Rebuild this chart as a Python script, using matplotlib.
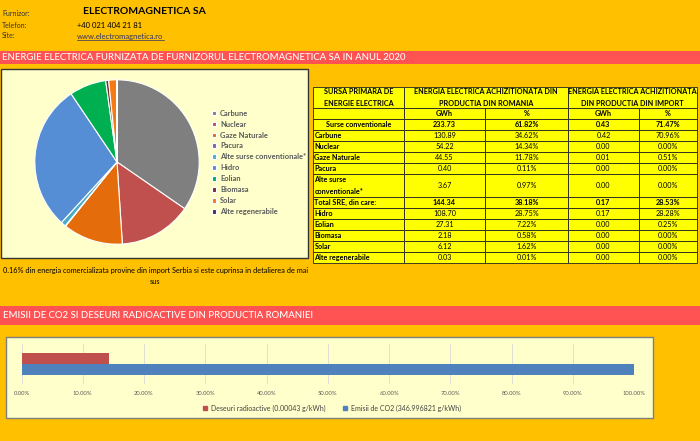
import matplotlib
matplotlib.use('Agg')
import matplotlib.pyplot as plt
from matplotlib.patches import Rectangle

plt.rcParams['font.family'] = ['Lato', 'DejaVu Sans']

# surse primare (tabel + pie)
surse = ['Carbune', 'Nuclear', 'Gaze Naturale', 'Pacura', 'Alte surse conventionale*',
         'Hidro', 'Eolian', 'Biomasa', 'Solar', 'Alte regenerabile']
ro_gwh = [130.89, 54.22, 44.55, 0.40, 3.67, 108.70, 27.31, 2.18, 6.12, 0.03]
ro_pct = [34.62, 14.34, 11.78, 0.11, 0.97, 28.75, 7.22, 0.58, 1.62, 0.01]
imp_gwh = [0.42, 0.00, 0.01, 0.00, 0.00, 0.17, 0.00, 0.00, 0.00, 0.00]
imp_pct = [70.96, 0.00, 0.51, 0.00, 0.00, 28.28, 0.25, 0.00, 0.00, 0.00]
culori = ['#7F7F7F', '#C0504D', '#E46C0A', '#8064A2', '#4BACC6',
          '#558ED5', '#00B050', '#7A2C2A', '#F47A14', '#3F3151']

tot_conv = [233.73, 61.82, 0.43, 71.47]
tot_sre = [144.34, 38.18, 0.17, 28.53]

# emisii
emisii_labels = ['Deseuri radioactive (0.00043 g/kWh)', 'Emisii de CO2 (346.996821 g/kWh)']
emisii_pct = [14.3, 100.0]
emisii_culori = ['#C0504D', '#4F81BD']

W, H = 700, 441
fig = plt.figure(figsize=(7, 4.41), dpi=100)
fig.patch.set_facecolor('#FFC000')

ax0 = fig.add_axes([0, 0, 1, 1])
ax0.set_xlim(0, W)
ax0.set_ylim(H, 0)
ax0.axis('off')

# header
ax0.text(2, 13, 'Furnizor:', fontsize=5, color='#333333', va='center')
ax0.text(83, 12, 'ELECTROMAGNETICA SA', fontsize=7.5, fontweight='bold', va='center')
ax0.text(2, 25, 'Telefon:', fontsize=5, color='#333333', va='center')
ax0.text(77, 25, '+40 021 404 21 81', fontsize=5.5, va='center')
ax0.text(2, 36, 'Site:', fontsize=5, color='#333333', va='center')
ax0.text(77, 36, 'www.electromagnetica.ro', fontsize=5.5, color='#333366', va='center')
ax0.plot([77, 164], [39.5, 39.5], color='#333366', lw=0.5)

# benzi rosii
ax0.add_patch(Rectangle((0, 51), W, 13, color='#FF5252', lw=0))
ax0.text(2, 57.5, 'ENERGIE ELECTRICA FURNIZATA DE FURNIZORUL ELECTROMAGNETICA SA IN ANUL 2020',
         fontsize=6.9, color='white', va='center', fontweight='medium')
ax0.add_patch(Rectangle((0, 306), W, 19, color='#FF5252', lw=0))
ax0.text(3, 316, 'EMISII DE CO2 SI DESEURI RADIOACTIVE DIN PRODUCTIA ROMANIEI',
         fontsize=6.95, color='white', va='center', fontweight='medium')

# casute grafice
ax0.add_patch(Rectangle((1, 69), 307, 189, facecolor='#FFFFCC', edgecolor='#333333', lw=1))
ax0.add_patch(Rectangle((6, 337), 647, 81, facecolor='#FFFFCC', edgecolor='#7F7F7F', lw=1))

# nota
ax0.text(3, 271, '0.16% din energia comercializata provine din import Serbia si este cuprinsa in detalierea de mai',
         fontsize=5.3, va='center')
ax0.text(155, 282, 'sus', fontsize=5.3, va='center', ha='center')

# tabel
cols = [313, 404, 485, 568, 639, 697]
lw_t = 0.6
fs_t = 5.2


def cell(x0, x1, y0, y1, txt, ha='center', bold=False):
    ax0.add_patch(Rectangle((x0, y0), x1 - x0, y1 - y0, facecolor='#FFFF00',
                            edgecolor='#222222', lw=lw_t))
    if txt:
        xt = (x0 + x1) / 2 if ha == 'center' else x0 + 1.5
        ax0.text(xt, (y0 + y1) / 2, txt, fontsize=fs_t, ha=ha, va='center',
                 fontweight='bold' if bold else 'normal', linespacing=1.9)


y = 87
cell(cols[0], cols[1], y, 108, 'SURSA PRIMARA DE\nENERGIE ELECTRICA', bold=True)
cell(cols[1], cols[3], y, 108, 'ENERGIA ELECTRICA ACHIZITIONATA DIN\nPRODUCTIA DIN ROMANIA', bold=True)
cell(cols[3], cols[5], y, 108, 'ENERGIA ELECTRICA ACHIZITIONATA\nDIN PRODUCTIA DIN IMPORT', bold=True)
y = 108
for i, t in enumerate(['', 'GWh', '%', 'GWh', '%']):
    cell(cols[i], cols[i + 1], y, y + 11, t, bold=True)
y += 11


def row(label, vals, bold_vals=False, label_ha='left', h=11):
    global y
    cell(cols[0], cols[1], y, y + h, label, ha=label_ha, bold=True)
    txts = [f'{vals[0]:.2f}', f'{vals[1]:.2f}%', f'{vals[2]:.2f}', f'{vals[3]:.2f}%']
    for i, t in enumerate(txts):
        cell(cols[i + 1], cols[i + 2], y, y + h, t, bold=bold_vals)
    y += h


row('Surse conventionale', tot_conv, bold_vals=True, label_ha='center')
for i in range(5):
    lab = 'Alte surse\nconventionale*' if i == 4 else surse[i]
    row(lab, [ro_gwh[i], ro_pct[i], imp_gwh[i], imp_pct[i]], h=23 if i == 4 else 11)
row('Total SRE, din care:', tot_sre, bold_vals=True)
for i in range(5, 10):
    row(surse[i], [ro_gwh[i], ro_pct[i], imp_gwh[i], imp_pct[i]])

# pie
cx, cy, r = 117, 162, 83
axp = fig.add_axes([(cx - r) / W, 1 - (cy + r) / H, 2 * r / W, 2 * r / H])
wedges, _ = axp.pie(ro_gwh, colors=culori, startangle=90, counterclock=False, radius=1,
                    wedgeprops=dict(edgecolor='white', linewidth=0.8))
axp.set_xlim(-1.01, 1.01)
axp.set_ylim(-1.01, 1.01)
axp.set_aspect('auto')
leg = fig.legend(wedges, surse, loc='upper left', bbox_to_anchor=(205 / W, 1 - 103 / H),
                 frameon=False, handlelength=0.6, handleheight=0.6,
                 handletextpad=0.5, labelspacing=0.52, labelcolor='#595959',
                 prop={'weight': 'bold', 'size': 5.4})

# bare emisii
axb = fig.add_axes([21.5 / W, 1 - 384 / H, (634 - 21.5) / W, 40 / H])
axb.set_facecolor('none')
axb.barh([0.265, -0.265], emisii_pct, height=0.53, color=emisii_culori, zorder=3)
axb.set_xlim(0, 100)
axb.set_ylim(-1, 1)
axb.set_xticks(range(0, 101, 10))
axb.xaxis.set_major_formatter(lambda v, p: f'{v:.2f}%')
axb.tick_params(axis='x', length=0, labelsize=4.2, labelcolor='#595959', pad=5)
axb.set_yticks([])
axb.grid(axis='x', color='#D9D9D9', lw=0.6, zorder=0)
for s in axb.spines.values():
    s.set_visible(False)
h = [Rectangle((0, 0), 1, 1, color=c) for c in emisii_culori]
fig.legend(h, emisii_labels, loc='center', bbox_to_anchor=(332 / W, 1 - 408 / H), ncol=2,
           frameon=False, fontsize=5.0, handlelength=0.6, handleheight=0.6,
           handletextpad=0.5, columnspacing=2.6, labelcolor='#404040')

fig.savefig('out.png', dpi=100, facecolor=fig.get_facecolor())
